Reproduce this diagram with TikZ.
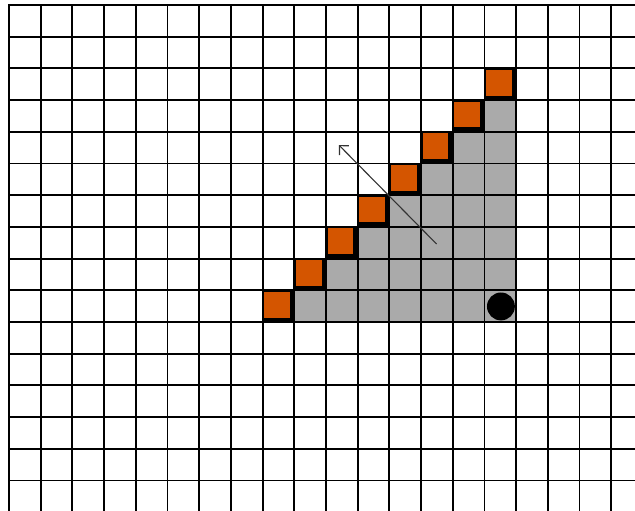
\documentclass[tikz,border=0pt]{standalone}
\usepackage{xcolor}
\usepackage{tikz}
\usetikzlibrary{arrows.meta}

\definecolor{cellorange}{RGB}{212,85,0}
\definecolor{cellgray}{RGB}{170,170,170}

\begin{document}
\begin{tikzpicture}[x=1cm, y=-1cm, gridline/.style={line width=1.7pt, line cap=rect}]
  \useasboundingbox (-0.284,-0.158) rectangle (19.75,15.96);
  \clip (-0.284,-0.158) rectangle (19.75,15.96);

  % Gray staircase
  \foreach \r in {3,...,9} {
    \pgfmathtruncatemacro{\c}{18-\r}
    \fill[cellgray] (\c,\r) rectangle (16,\r+1);
  }

  % Orange boundary cells
  \foreach \r in {2,...,9} {
    \pgfmathtruncatemacro{\c}{17-\r}
    \fill[black] (\c,\r) rectangle (\c+1,\r+1);
    \fill[cellorange] (\c+0.05,\r+0.05) rectangle (\c+0.86,\r+0.86);
  }

  % Grid
  \foreach \i in {0,...,20} \draw[gridline] (\i,0) -- (\i,17);
  \foreach \j in {0,...,16} \draw[gridline] (0,\j) -- (21,\j);

  % Direction arrow
  \coordinate (tail) at (13.49,7.54);
  \coordinate (head) at (10.41,4.42);
  \draw[black!80, line width=1pt, -{Straight Barb[length=6pt,width=12pt]}] (tail) -- (head);

  % Dot
  \fill[black] (15.52,9.51) circle (0.44);
\end{tikzpicture}
\end{document}
